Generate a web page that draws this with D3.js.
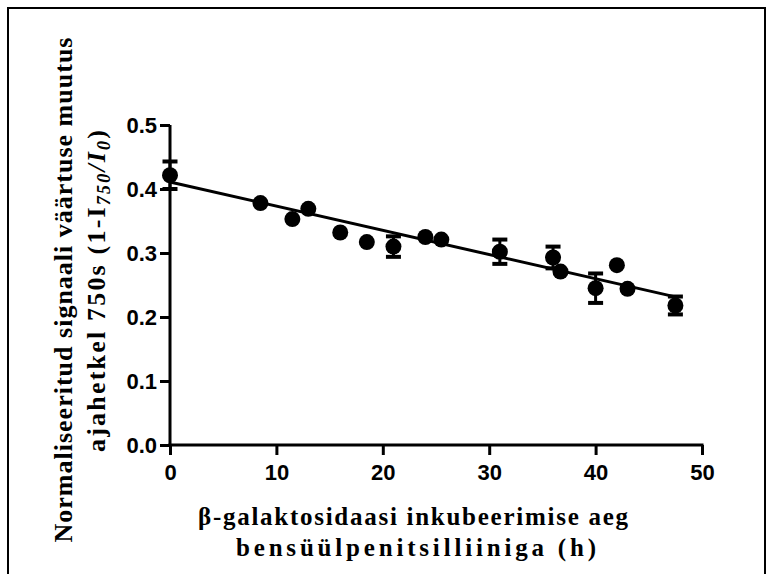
<!DOCTYPE html>
<html>
<head>
<meta charset="utf-8">
<script src="https://cdn.jsdelivr.net/npm/d3@7"></script>
<style>
  html, body { margin: 0; padding: 0; background: #fff; }
  svg { display: block; }
</style>
</head>
<body>
<svg id="chart" width="772" height="574"></svg>
<script>
// ---- data ----
const hours  = [0, 8.5, 11.5, 13, 16, 18.5, 21, 24, 25.5, 31, 36, 36.7, 40, 42, 43, 47.5];
const signal = [0.4215, 0.378, 0.353, 0.369, 0.332, 0.317, 0.310, 0.325, 0.321, 0.302, 0.293, 0.271, 0.245, 0.281, 0.244, 0.218];
const errors = [0.0215, 0, 0, 0, 0, 0, 0.016, 0, 0, 0.019, 0.017, 0, 0.023, 0, 0, 0.014];
const fitIntercept = 0.411;
const fitSlope = -0.00378;
const fitRange = [0, 47.5];
const xTicks = [0, 10, 20, 30, 40, 50];
const yTicks = [0.0, 0.1, 0.2, 0.3, 0.4, 0.5];

const svg = d3.select("#chart");

// frame
svg.append("rect").attr("x", 8).attr("y", 8).attr("width", 757).attr("height", 620)
  .attr("fill", "none").attr("stroke", "#000").attr("stroke-width", 2);

const x = d3.scaleLinear().domain([0, 50]).range([170, 702]);
const y = d3.scaleLinear().domain([0, 0.5]).range([445, 125]);

const data = hours.map((h, i) => ({ x: h, y: signal[i], e: errors[i] }));

// axes
const xAxis = svg.append("g").attr("transform", `translate(0,${y(0)})`)
  .call(d3.axisBottom(x).tickValues(xTicks).tickFormat(d3.format("d")).tickSize(10).tickSizeOuter(0).tickPadding(9));
const yAxis = svg.append("g").attr("transform", `translate(${x(0)},0)`)
  .call(d3.axisLeft(y).tickValues(yTicks).tickFormat(d3.format(".1f")).tickSize(10).tickSizeOuter(0).tickPadding(3));

[xAxis, yAxis].forEach(g => {
  g.select(".domain").attr("stroke", "#000").attr("stroke-width", 3);
  g.selectAll(".tick line").attr("stroke", "#000").attr("stroke-width", 3);
  g.selectAll(".tick text")
    .attr("fill", "#000")
    .style("font-family", "'Liberation Sans', Arial, sans-serif")
    .style("font-weight", "bold")
    .style("font-size", "22px");
});
yAxis.select(".domain").attr("d", `M0,${y(0) + 1.5}V${y(0.5)}`);
xAxis.select(".domain").attr("d", `M${x(0) - 1.5},0H${x(50) + 1.5}`);

// regression line
const line = d3.line().x(d => x(d)).y(d => y(fitIntercept + fitSlope * d));
svg.append("path").datum(fitRange).attr("d", line)
  .attr("fill", "none").attr("stroke", "#000").attr("stroke-width", 3);

// error bars
const eb = svg.append("g").selectAll("g").data(data.filter(d => d.e > 0)).join("g");
eb.append("line")
  .attr("x1", d => x(d.x)).attr("x2", d => x(d.x))
  .attr("y1", d => y(d.y - d.e)).attr("y2", d => y(d.y + d.e))
  .attr("stroke", "#000").attr("stroke-width", 3);
eb.append("line")
  .attr("x1", d => x(d.x) - 7.5).attr("x2", d => x(d.x) + 7.5)
  .attr("y1", d => y(d.y + d.e)).attr("y2", d => y(d.y + d.e))
  .attr("stroke", "#000").attr("stroke-width", 4);
eb.append("line")
  .attr("x1", d => x(d.x) - 7.5).attr("x2", d => x(d.x) + 7.5)
  .attr("y1", d => y(d.y - d.e)).attr("y2", d => y(d.y - d.e))
  .attr("stroke", "#000").attr("stroke-width", 4);

// markers
svg.append("g").selectAll("circle").data(data).join("circle")
  .attr("cx", d => x(d.x)).attr("cy", d => y(d.y)).attr("r", 8).attr("fill", "#000");

// x axis title
const serif = "'Liberation Serif', 'Times New Roman', serif";
svg.append("text").attr("x", 413).attr("y", 525).attr("text-anchor", "middle")
  .attr("textLength", 430).attr("lengthAdjust", "spacing")
  .style("font-family", serif).style("font-weight", "bold").style("font-size", "25px")
  .text("β-galaktosidaasi inkubeerimise aeg");
svg.append("text").attr("x", 416).attr("y", 556).attr("text-anchor", "middle")
  .attr("textLength", 360).attr("lengthAdjust", "spacing")
  .style("font-family", serif).style("font-weight", "bold").style("font-size", "25px")
  .text("bensüülpenitsilliiniga (h)");

// y axis title
const yt1 = svg.append("text").attr("transform", "translate(72,290) rotate(-90)")
  .attr("text-anchor", "middle")
  .attr("textLength", 505).attr("lengthAdjust", "spacing")
  .style("font-family", serif).style("font-weight", "bold").style("font-size", "26px")
  .text("Normaliseeritud signaali väärtuse muutus");
const yt2 = svg.append("text").attr("transform", "translate(105,291) rotate(-90)")
  .attr("text-anchor", "middle")
  .attr("textLength", 322).attr("lengthAdjust", "spacing")
  .style("font-family", serif).style("font-weight", "bold").style("font-size", "26px");
yt2.append("tspan").text("ajahetkel 750s (1-I");
yt2.append("tspan").attr("dy", 5).style("font-size", "18px").style("font-style", "italic").text("750");
yt2.append("tspan").attr("dy", -5).style("font-style", "italic").text("/I");
yt2.append("tspan").attr("dy", 5).style("font-size", "18px").style("font-style", "italic").text("0");
yt2.append("tspan").attr("dy", -5).text(")");
</script>
</body>
</html>
